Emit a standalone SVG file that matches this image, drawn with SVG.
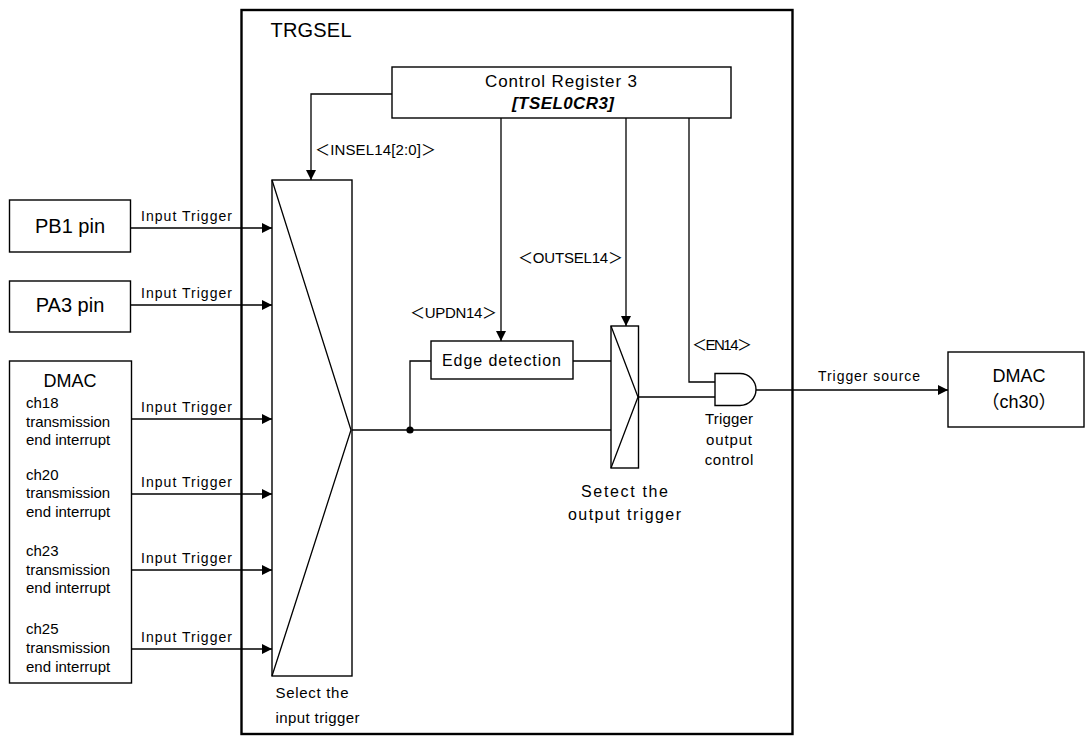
<svg xmlns="http://www.w3.org/2000/svg" width="1086" height="736" viewBox="0 0 1086 736">
<defs>
<marker id="ah" markerUnits="userSpaceOnUse" markerWidth="11" markerHeight="10" refX="10" refY="5" orient="auto">
<path d="M0,0 L10,5 L0,10 Z" fill="#000"/>
</marker>
<style>
.box{fill:#fff;stroke:#000;stroke-width:1.4}
.ln{fill:none;stroke:#000;stroke-width:1.3}
.t{font-family:"Liberation Sans","Noto Sans CJK JP",sans-serif;fill:#000}
.lbl{font-family:"Liberation Sans","Noto Sans CJK JP",sans-serif;fill:#000;font-size:14px}
.reg{font-family:"Liberation Sans","Noto Sans CJK JP",sans-serif;fill:#000;font-size:15px}
.src{font-family:"Liberation Sans","Noto Sans CJK JP",sans-serif;fill:#000;font-size:15px}
</style>
</defs>
<rect width="1086" height="736" fill="#fff"/>

<g id="trgsel">
<rect x="241.5" y="10" width="551" height="724" fill="none" stroke="#000" stroke-width="2.4"/>
<text class="t" x="270.5" y="37" font-size="20" textLength="81" lengthAdjust="spacing">TRGSEL</text>
</g>

<g id="pb1">
<rect class="box" x="9.5" y="200" width="121" height="52"/>
<text class="t" x="70" y="233" font-size="20" text-anchor="middle">PB1 pin</text>
</g>
<g id="pa3">
<rect class="box" x="9.5" y="281" width="121" height="51"/>
<text class="t" x="70" y="311.5" font-size="20" text-anchor="middle">PA3 pin</text>
</g>
<g id="dmac-src">
<rect class="box" x="9.5" y="361" width="122" height="322"/>
<text class="t" x="70" y="386.5" font-size="18" text-anchor="middle">DMAC</text>
<text class="src" x="26" y="408">ch18</text>
<text class="src" x="26" y="426.5">transmission</text>
<text class="src" x="26" y="445">end interrupt</text>
<text class="src" x="26" y="479.5">ch20</text>
<text class="src" x="26" y="498">transmission</text>
<text class="src" x="26" y="516.5">end interrupt</text>
<text class="src" x="26" y="555.5">ch23</text>
<text class="src" x="26" y="574.5">transmission</text>
<text class="src" x="26" y="593">end interrupt</text>
<text class="src" x="26" y="633.5">ch25</text>
<text class="src" x="26" y="652.5">transmission</text>
<text class="src" x="26" y="671.5">end interrupt</text>
</g>

<g id="ctrl-reg">
<rect class="box" x="392" y="67" width="339" height="51"/>
<text class="t" x="485" y="87" font-size="17" textLength="152" lengthAdjust="spacing">Control Register 3</text>
<text class="t" x="512" y="109" font-size="17" font-weight="bold" font-style="italic" textLength="102" lengthAdjust="spacing">[TSEL0CR3]</text>
</g>

<g id="in-mux">
<rect class="box" x="272" y="180" width="80" height="496"/>
<path class="ln" d="M272,180 L351,430 L272,676"/>
<text class="t" x="275.5" y="698" font-size="15" textLength="73" lengthAdjust="spacing">Select the</text>
<text class="t" x="275.5" y="723" font-size="15" textLength="84" lengthAdjust="spacing">input trigger</text>
</g>

<g id="edge">
<rect class="box" x="431" y="341" width="142" height="38"/>
<text class="t" x="442" y="366" font-size="16" textLength="119" lengthAdjust="spacing">Edge detection</text>
</g>

<g id="out-mux">
<rect class="box" x="611" y="326" width="27.5" height="142"/>
<path class="ln" d="M611,326 L638,397 L611,468"/>
<text class="t" x="624.5" y="497" font-size="16" text-anchor="middle" textLength="87" lengthAdjust="spacing">Setect the</text>
<text class="t" x="624.5" y="520" font-size="16" text-anchor="middle" textLength="113" lengthAdjust="spacing">output trigger</text>
</g>

<g id="and-gate">
<path class="box" d="M715,373.5 H740 A16,16 0 0 1 740,405.5 H715 Z"/>
<text class="t" x="729" y="424" font-size="15" text-anchor="middle" textLength="48" lengthAdjust="spacing">Trigger</text>
<text class="t" x="729" y="445" font-size="15" text-anchor="middle" textLength="46" lengthAdjust="spacing">output</text>
<text class="t" x="729" y="465" font-size="15" text-anchor="middle" textLength="48.5" lengthAdjust="spacing">control</text>
</g>

<g id="dmac-dst">
<rect class="box" x="948" y="352" width="136" height="75"/>
<text class="t" x="1019" y="382" font-size="18" text-anchor="middle">DMAC</text>
<text class="t" x="1019" y="408" font-size="18" text-anchor="middle">（ch30）</text>
</g>

<g id="connectors">
<path class="ln" d="M131,228 H272" marker-end="url(#ah)"/>
<path class="ln" d="M131,305 H272" marker-end="url(#ah)"/>
<path class="ln" d="M131.5,419 H272" marker-end="url(#ah)"/>
<path class="ln" d="M131.5,494 H272" marker-end="url(#ah)"/>
<path class="ln" d="M131.5,570 H272" marker-end="url(#ah)"/>
<path class="ln" d="M131.5,649 H272" marker-end="url(#ah)"/>
<text class="lbl" x="141" y="221" textLength="91" lengthAdjust="spacing">Input Trigger</text>
<text class="lbl" x="141" y="298" textLength="91" lengthAdjust="spacing">Input Trigger</text>
<text class="lbl" x="141" y="412" textLength="91" lengthAdjust="spacing">Input Trigger</text>
<text class="lbl" x="141" y="487" textLength="91" lengthAdjust="spacing">Input Trigger</text>
<text class="lbl" x="141" y="563" textLength="91" lengthAdjust="spacing">Input Trigger</text>
<text class="lbl" x="141" y="642" textLength="91" lengthAdjust="spacing">Input Trigger</text>

<path class="ln" d="M392,94 H311 V180" marker-end="url(#ah)"/>
<text class="reg" x="315" y="155" textLength="121" lengthAdjust="spacing">＜INSEL14[2:0]＞</text>

<path class="ln" d="M501,118 V341" marker-end="url(#ah)"/>
<text class="reg" x="410" y="318" textLength="87" lengthAdjust="spacing">＜UPDN14＞</text>

<path class="ln" d="M626,118 V326" marker-end="url(#ah)"/>
<text class="reg" x="518" y="263" textLength="105" lengthAdjust="spacing">＜OUTSEL14＞</text>

<path class="ln" d="M689,118 V382 H715"/>
<text class="reg" x="692" y="350" textLength="60" lengthAdjust="spacing">＜EN14＞</text>

<path class="ln" d="M352,430 H611"/>
<circle cx="410" cy="430" r="3.6" fill="#000"/>
<path class="ln" d="M410,430 V361 H431"/>
<path class="ln" d="M573,361 H611"/>
<path class="ln" d="M638.5,397 H715"/>
<path class="ln" d="M756,390 H948" marker-end="url(#ah)"/>
<text class="lbl" x="818" y="381" textLength="102" lengthAdjust="spacing">Trigger source</text>
</g>
</svg>
